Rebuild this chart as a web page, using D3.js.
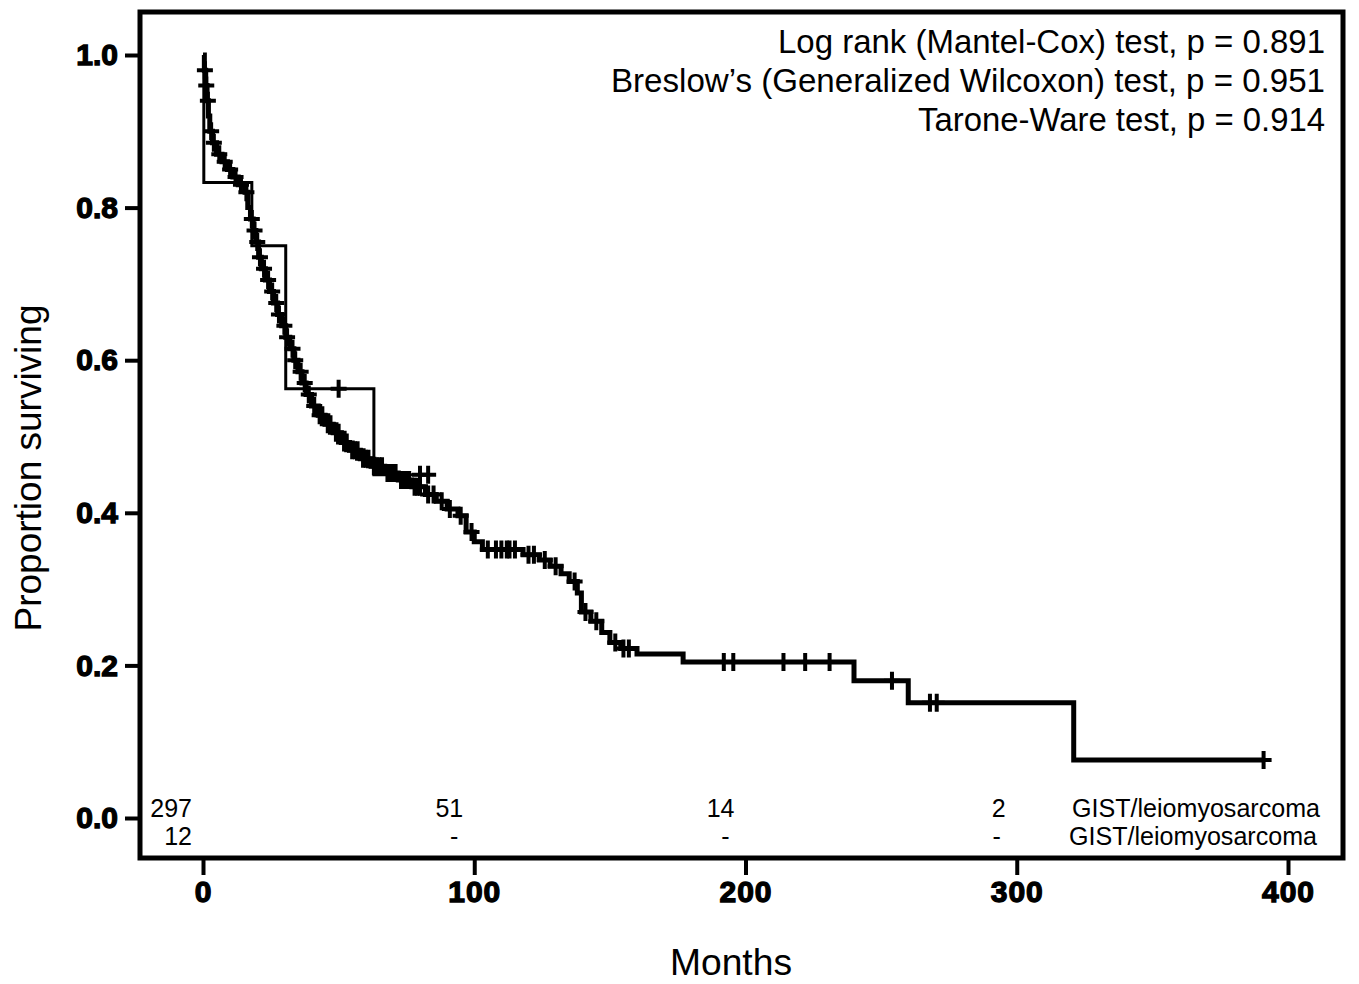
<!DOCTYPE html>
<html>
<head>
<meta charset="utf-8">
<script src="https://cdn.jsdelivr.net/npm/d3@7"></script>
<style>
  body { margin: 0; background: #fff; }
  svg text { fill: #000; }
</style>
</head>
<body>
<div id="chart"></div>
<script>
// Axis ticks
const xTicks = [0, 100, 200, 300, 400];
const yTicks = [0, 0.2, 0.4, 0.6, 0.8, 1.0];

// Main group (n = 297): step times (months) and survival after each step
const mainTimes = [0.5, 1, 1.5, 2, 2.5, 3.5, 5, 7, 9, 11, 13, 15.5, 16.5, 17.5, 18.5, 19.5, 20.5, 21.5, 23, 24.5,
    26, 27.5, 29, 30.5, 32, 33.5, 35, 36.5, 38, 40, 42.5, 45, 48, 51, 54, 58, 62, 67, 72, 77,
    82, 86, 90, 94, 97, 100, 103, 118, 124, 128, 132, 135, 138, 139.5, 143, 147, 150, 154, 160, 177,
    240, 260, 321];
const mainSurv = [0.98, 0.96, 0.94, 0.92, 0.90, 0.885, 0.87, 0.86, 0.85, 0.84, 0.83, 0.82, 0.80, 0.785, 0.77, 0.755, 0.735, 0.72, 0.705, 0.69,
    0.675, 0.66, 0.645, 0.63, 0.615, 0.60, 0.585, 0.57, 0.555, 0.54, 0.528, 0.516, 0.505, 0.492, 0.482, 0.471, 0.461, 0.452, 0.443, 0.434,
    0.424, 0.415, 0.405, 0.396, 0.375, 0.362, 0.352, 0.345, 0.338, 0.33, 0.32, 0.31, 0.295, 0.27, 0.258, 0.243, 0.23, 0.222, 0.215, 0.2045,
    0.180, 0.151, 0.076];
const mainEnd = 391;
const mainCensor = [0.7, 1.2, 1.8, 3, 4, 6, 8, 10, 12, 14, 16, 18, 19, 20, 21, 22.5, 24, 25.5, 27, 28,
    30, 31, 33, 34, 36, 37.5, 39, 41, 43, 44, 46, 47, 49, 50, 52, 53, 55, 56, 57, 59,
    60, 61, 63, 64, 65, 66, 68, 69, 70, 71, 73, 74, 75, 76, 78, 79, 80, 83, 85, 88,
    91, 95, 99, 105, 108, 110, 112, 113, 115, 120, 122, 126, 130, 137, 141, 145, 152, 155, 157,
    192, 195.5, 214, 222, 231, 254, 268, 270.5, 391];

// Second group (n = 12)
const smallTimes = [0.3, 18, 30.5, 63];
const smallSurv = [0.833, 0.75, 0.5625, 0.45];
const smallEnd = 83;
const smallCensor = [50, 80, 83];

// Numbers at risk
const riskTimes = [0, 100, 200, 300];
const riskRow1 = ["297", "51", "14", "2"];
const riskRow2 = ["12", "-", "-", "-"];
const groupNames = ["GIST/leiomyosarcoma", "GIST/leiomyosarcoma"];

// Test results
const testLines = [
    "Log rank (Mantel-Cox) test, p = 0.891",
    "Breslow\u2019s (Generalized Wilcoxon) test, p = 0.951",
    "Tarone-Ware test, p = 0.914"
];
const testWidths = [547, 714, 407];

const W = 1359, H = 984;
const frame = { left: 140, top: 12, right: 1343, bottom: 858 };
const font = "'Liberation Sans', Arial, sans-serif";

const svg = d3.select("#chart").append("svg")
    .attr("width", W).attr("height", H)
    .attr("viewBox", `0 0 ${W} ${H}`);

const x = d3.scaleLinear().domain([0, 400]).range([203, 1288]);
const y = d3.scaleLinear().domain([0, 1]).range([818, 55]);

// Axes
const yAxis = svg.append("g")
    .attr("transform", `translate(${frame.left},0)`)
    .call(d3.axisLeft(y).tickValues(yTicks).tickFormat(d3.format(".1f")).tickSize(15).tickPadding(7));
const xAxis = svg.append("g")
    .attr("transform", `translate(0,${frame.bottom})`)
    .call(d3.axisBottom(x).tickValues(xTicks).tickSize(17).tickPadding(6));

[yAxis, xAxis].forEach(ax => {
    ax.select(".domain").remove();
    ax.selectAll(".tick line").attr("stroke", "#000").attr("stroke-width", 4);
    ax.selectAll(".tick text")
        .attr("stroke", "#000")
        .attr("stroke-width", 1.3)
        .style("font-family", font)
        .style("font-weight", "bold")
        .style("font-size", "30px");
});
xAxis.selectAll(".tick text").style("letter-spacing", "1px");

// Frame
svg.append("rect")
    .attr("x", frame.left).attr("y", frame.top)
    .attr("width", frame.right - frame.left)
    .attr("height", frame.bottom - frame.top)
    .attr("fill", "none")
    .attr("stroke", "#000")
    .attr("stroke-width", 5);

// Kaplan-Meier curves
function stepPoints(times, surv, end) {
    const pts = [[0, 1]];
    times.forEach((t, i) => pts.push([t, surv[i]]));
    pts.push([end, surv[surv.length - 1]]);
    return pts;
}
function survAt(times, surv, t) {
    const i = d3.bisectRight(times, t);
    return i === 0 ? 1 : surv[i - 1];
}

const line = d3.line()
    .x(d => x(d[0]))
    .y(d => y(d[1]))
    .curve(d3.curveStepAfter);

const curves = [
    { times: smallTimes, surv: smallSurv, end: smallEnd, censor: smallCensor, width: 3 },
    { times: mainTimes, surv: mainSurv, end: mainEnd, censor: mainCensor, width: 5 }
];

curves.forEach(c => {
    svg.append("path")
        .datum(stepPoints(c.times, c.surv, c.end))
        .attr("fill", "none")
        .attr("stroke", "#000")
        .attr("stroke-width", c.width)
        .attr("stroke-linejoin", "miter")
        .attr("d", line);

    svg.append("g").selectAll("path")
        .data(c.censor)
        .join("path")
        .attr("transform", t => `translate(${x(t)},${y(survAt(c.times, c.surv, t))})`)
        .attr("d", "M-8,0H8M0,-9V9")
        .attr("fill", "none")
        .attr("stroke", "#000")
        .attr("stroke-width", 4);
});

// Test annotation
svg.append("g").selectAll("text")
    .data(testLines)
    .join("text")
    .attr("x", 1325)
    .attr("y", (d, i) => 53 + i * 39)
    .attr("text-anchor", "end")
    .attr("textLength", (d, i) => testWidths[i])
    .attr("lengthAdjust", "spacingAndGlyphs")
    .style("font-family", font)
    .style("font-size", "34px")
    .text(d => d);

// Numbers at risk
[riskRow1, riskRow2].forEach((row, r) => {
    const yy = 817 + r * 28;
    svg.append("g").selectAll("text")
        .data(row)
        .join("text")
        .attr("x", (d, i) => x(riskTimes[i]) - (d === "-" ? 16 : 11))
        .attr("y", yy)
        .attr("text-anchor", "end")
        .style("font-family", font)
        .style("font-size", "25px")
        .text(d => d);
    svg.append("text")
        .attr("x", 1320 - r * 3)
        .attr("y", yy)
        .attr("text-anchor", "end")
        .attr("textLength", 248)
        .attr("lengthAdjust", "spacingAndGlyphs")
        .style("font-family", font)
        .style("font-size", "25px")
        .text(groupNames[r]);
});

// Axis titles
svg.append("text")
    .attr("x", 731).attr("y", 975)
    .attr("text-anchor", "middle")
    .attr("textLength", 122)
    .attr("lengthAdjust", "spacingAndGlyphs")
    .style("font-family", font)
    .style("font-size", "37px")
    .text("Months");

svg.append("text")
    .attr("transform", "translate(41,468) rotate(-90)")
    .attr("text-anchor", "middle")
    .attr("textLength", 327)
    .attr("lengthAdjust", "spacingAndGlyphs")
    .style("font-family", font)
    .style("font-size", "36px")
    .text("Proportion surviving");
</script>
</body>
</html>
